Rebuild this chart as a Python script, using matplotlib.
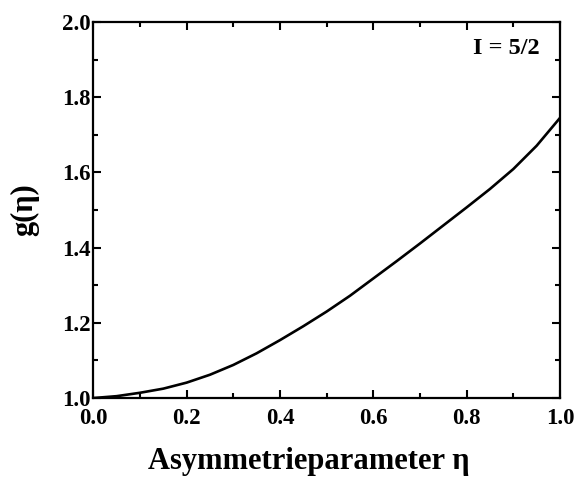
import matplotlib
matplotlib.use("Agg")
import matplotlib.pyplot as plt
from matplotlib.ticker import MultipleLocator, FormatStrFormatter

eta = [0.0, 0.05, 0.1, 0.15, 0.2, 0.25, 0.3, 0.35, 0.4, 0.45, 0.5, 0.55, 0.6, 0.65, 0.7, 0.75, 0.8, 0.85, 0.9, 0.95, 1.0]
g = [1.000, 1.005, 1.014, 1.025, 1.041, 1.062, 1.088, 1.119, 1.154, 1.191, 1.230, 1.272, 1.318, 1.364, 1.411, 1.459, 1.507, 1.556, 1.609, 1.671, 1.745]

plt.rcParams['font.family'] = ['Liberation Serif', 'DejaVu Serif']
plt.rcParams['font.weight'] = 'bold'

fig = plt.figure(figsize=(5.83, 4.79), dpi=100)
ax = fig.add_axes([0.160, 0.169, 0.8005, 0.785])
ax.plot(eta, g, color='black', lw=1.9)
ax.set_xlim(0, 1.0)
ax.set_ylim(1.0, 2.0)
ax.xaxis.set_major_locator(MultipleLocator(0.2))
ax.xaxis.set_minor_locator(MultipleLocator(0.1))
ax.yaxis.set_major_locator(MultipleLocator(0.2))
ax.yaxis.set_minor_locator(MultipleLocator(0.1))
ax.xaxis.set_major_formatter(FormatStrFormatter('%.1f'))
ax.yaxis.set_major_formatter(FormatStrFormatter('%.1f'))
ax.tick_params(which='both', direction='in', top=True, right=True, width=1.5, labelsize=16.5)
ax.tick_params(which='major', length=5.5)
ax.tick_params(which='minor', length=3.5)
ax.tick_params(axis='x', which='major', pad=7)
ax.tick_params(axis='y', which='major', pad=2)
for s in ax.spines.values():
    s.set_linewidth(1.6)
for lab in ax.get_xticklabels() + ax.get_yticklabels():
    lab.set_fontweight('bold')
ax.set_xlabel('Asymmetrieparameter η', fontsize=22, fontweight='bold')
ax.xaxis.set_label_coords(0.462, -0.17, transform=ax.transAxes)
ax.xaxis.label.set_va('center')
ax.set_ylabel('g(η)', fontsize=22, fontweight='bold', labelpad=16)
ax.text(0.957, 0.93, 'I = 5/2', transform=ax.transAxes, ha='right', va='center', fontsize=17.5, fontweight='bold')
fig.savefig('out.png', dpi=100)
